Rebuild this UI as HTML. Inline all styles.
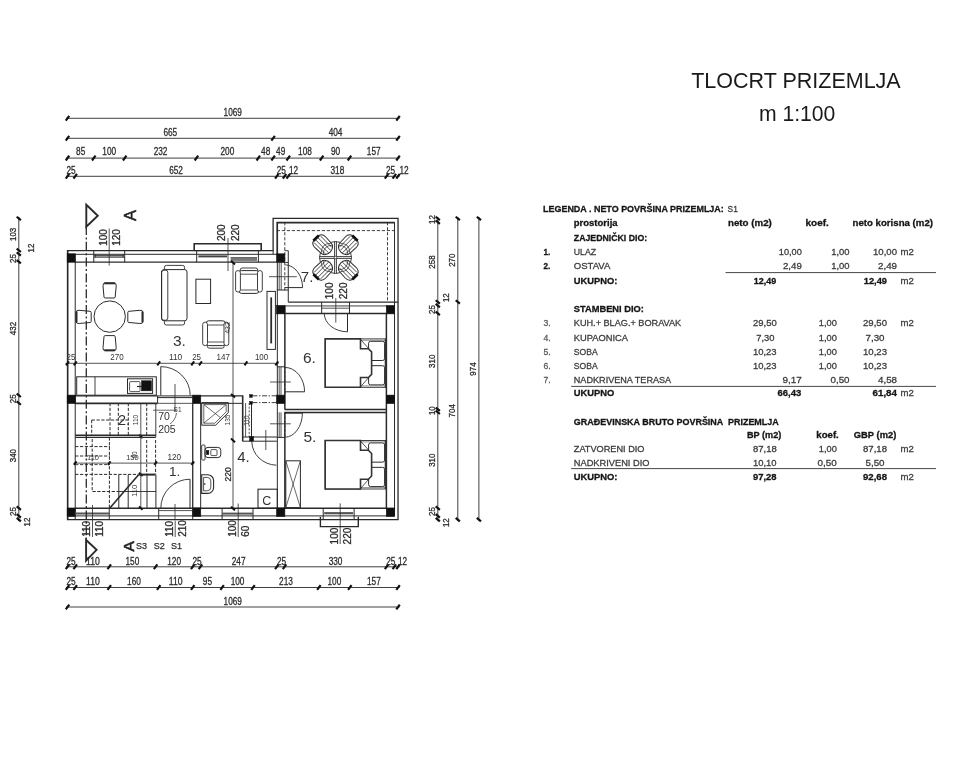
<!DOCTYPE html>
<html lang="hr">
<head>
<meta charset="utf-8">
<title>Tlocrt prizemlja</title>
<style>
html,body{margin:0;padding:0;background:#fff;}
body{width:960px;height:767px;overflow:hidden;font-family:"Liberation Sans",sans-serif;}
svg{display:block;font-family:"Liberation Sans",sans-serif;}
svg text{white-space:pre;}
#plan{filter:blur(0.5px);}
#legend{filter:blur(0.45px);}
#title{filter:blur(0.4px);}
</style>
</head>
<body>
<svg width="960" height="767" viewBox="0 0 960 767">
<rect x="0" y="0" width="960" height="767" fill="#ffffff"/>
<g id="title">
<text x="691.20" y="87.60" font-size="21.5" text-anchor="start" fill="#1a1a1a" font-weight="normal" textLength="209.50" lengthAdjust="spacingAndGlyphs">TLOCRT PRIZEMLJA</text>
<text x="758.90" y="121.30" font-size="21.5" text-anchor="start" fill="#1a1a1a" font-weight="normal" textLength="76.50" lengthAdjust="spacingAndGlyphs">m 1:100</text>
</g>
<g id="plan" stroke-linecap="butt">
<line x1="66.00" y1="118.30" x2="399.53" y2="118.30" stroke="#2a2a2a" stroke-width="0.9"/>
<line x1="65.77" y1="120.70" x2="69.23" y2="115.90" stroke="#111" stroke-width="2.2"/>
<line x1="396.30" y1="120.70" x2="399.76" y2="115.90" stroke="#111" stroke-width="2.2"/>
<text x="232.76" y="115.50" font-size="10.7" text-anchor="middle" fill="#2b2b2b" font-weight="normal" textLength="18.40" lengthAdjust="spacingAndGlyphs" stroke="#2b2b2b" stroke-width="0.3">1069</text>
<line x1="66.00" y1="138.30" x2="399.53" y2="138.30" stroke="#2a2a2a" stroke-width="0.9"/>
<line x1="65.77" y1="140.70" x2="69.23" y2="135.90" stroke="#111" stroke-width="2.2"/>
<line x1="271.39" y1="140.70" x2="274.85" y2="135.90" stroke="#111" stroke-width="2.2"/>
<line x1="396.30" y1="140.70" x2="399.76" y2="135.90" stroke="#111" stroke-width="2.2"/>
<text x="170.31" y="135.50" font-size="10.7" text-anchor="middle" fill="#2b2b2b" font-weight="normal" textLength="13.80" lengthAdjust="spacingAndGlyphs" stroke="#2b2b2b" stroke-width="0.3">665</text>
<text x="335.57" y="135.50" font-size="10.7" text-anchor="middle" fill="#2b2b2b" font-weight="normal" textLength="13.80" lengthAdjust="spacingAndGlyphs" stroke="#2b2b2b" stroke-width="0.3">404</text>
<line x1="66.00" y1="158.10" x2="399.53" y2="158.10" stroke="#2a2a2a" stroke-width="0.9"/>
<line x1="65.77" y1="160.50" x2="69.23" y2="155.70" stroke="#111" stroke-width="2.2"/>
<line x1="92.05" y1="160.50" x2="95.51" y2="155.70" stroke="#111" stroke-width="2.2"/>
<line x1="122.97" y1="160.50" x2="126.43" y2="155.70" stroke="#111" stroke-width="2.2"/>
<line x1="194.71" y1="160.50" x2="198.17" y2="155.70" stroke="#111" stroke-width="2.2"/>
<line x1="256.55" y1="160.50" x2="260.01" y2="155.70" stroke="#111" stroke-width="2.2"/>
<line x1="271.39" y1="160.50" x2="274.85" y2="155.70" stroke="#111" stroke-width="2.2"/>
<line x1="286.54" y1="160.50" x2="290.00" y2="155.70" stroke="#111" stroke-width="2.2"/>
<line x1="319.93" y1="160.50" x2="323.39" y2="155.70" stroke="#111" stroke-width="2.2"/>
<line x1="347.76" y1="160.50" x2="351.22" y2="155.70" stroke="#111" stroke-width="2.2"/>
<line x1="396.30" y1="160.50" x2="399.76" y2="155.70" stroke="#111" stroke-width="2.2"/>
<text x="80.64" y="155.30" font-size="10.7" text-anchor="middle" fill="#2b2b2b" font-weight="normal" textLength="9.20" lengthAdjust="spacingAndGlyphs" stroke="#2b2b2b" stroke-width="0.3">85</text>
<text x="109.24" y="155.30" font-size="10.7" text-anchor="middle" fill="#2b2b2b" font-weight="normal" textLength="13.80" lengthAdjust="spacingAndGlyphs" stroke="#2b2b2b" stroke-width="0.3">100</text>
<text x="160.57" y="155.30" font-size="10.7" text-anchor="middle" fill="#2b2b2b" font-weight="normal" textLength="13.80" lengthAdjust="spacingAndGlyphs" stroke="#2b2b2b" stroke-width="0.3">232</text>
<text x="227.36" y="155.30" font-size="10.7" text-anchor="middle" fill="#2b2b2b" font-weight="normal" textLength="13.80" lengthAdjust="spacingAndGlyphs" stroke="#2b2b2b" stroke-width="0.3">200</text>
<text x="265.70" y="155.30" font-size="10.7" text-anchor="middle" fill="#2b2b2b" font-weight="normal" textLength="9.20" lengthAdjust="spacingAndGlyphs" stroke="#2b2b2b" stroke-width="0.3">48</text>
<text x="280.69" y="155.30" font-size="10.7" text-anchor="middle" fill="#2b2b2b" font-weight="normal" textLength="9.20" lengthAdjust="spacingAndGlyphs" stroke="#2b2b2b" stroke-width="0.3">49</text>
<text x="304.97" y="155.30" font-size="10.7" text-anchor="middle" fill="#2b2b2b" font-weight="normal" textLength="13.80" lengthAdjust="spacingAndGlyphs" stroke="#2b2b2b" stroke-width="0.3">108</text>
<text x="335.58" y="155.30" font-size="10.7" text-anchor="middle" fill="#2b2b2b" font-weight="normal" textLength="9.20" lengthAdjust="spacingAndGlyphs" stroke="#2b2b2b" stroke-width="0.3">90</text>
<text x="373.76" y="155.30" font-size="10.7" text-anchor="middle" fill="#2b2b2b" font-weight="normal" textLength="13.80" lengthAdjust="spacingAndGlyphs" stroke="#2b2b2b" stroke-width="0.3">157</text>
<line x1="66.00" y1="176.30" x2="399.53" y2="176.30" stroke="#2a2a2a" stroke-width="0.9"/>
<line x1="65.77" y1="178.70" x2="69.23" y2="173.90" stroke="#111" stroke-width="2.2"/>
<line x1="73.50" y1="178.70" x2="76.96" y2="173.90" stroke="#111" stroke-width="2.2"/>
<line x1="275.10" y1="178.70" x2="278.56" y2="173.90" stroke="#111" stroke-width="2.2"/>
<line x1="282.83" y1="178.70" x2="286.29" y2="173.90" stroke="#111" stroke-width="2.2"/>
<line x1="286.54" y1="178.70" x2="290.00" y2="173.90" stroke="#111" stroke-width="2.2"/>
<line x1="384.86" y1="178.70" x2="388.32" y2="173.90" stroke="#111" stroke-width="2.2"/>
<line x1="392.59" y1="178.70" x2="396.05" y2="173.90" stroke="#111" stroke-width="2.2"/>
<line x1="396.30" y1="178.70" x2="399.76" y2="173.90" stroke="#111" stroke-width="2.2"/>
<text x="71.00" y="173.50" font-size="10.7" text-anchor="middle" fill="#2b2b2b" font-weight="normal" textLength="9.20" lengthAdjust="spacingAndGlyphs" stroke="#2b2b2b" stroke-width="0.3">25</text>
<text x="176.03" y="173.50" font-size="10.7" text-anchor="middle" fill="#2b2b2b" font-weight="normal" textLength="13.80" lengthAdjust="spacingAndGlyphs" stroke="#2b2b2b" stroke-width="0.3">652</text>
<text x="281.30" y="173.50" font-size="10.7" text-anchor="middle" fill="#2b2b2b" font-weight="normal" textLength="9.20" lengthAdjust="spacingAndGlyphs" stroke="#2b2b2b" stroke-width="0.3">25</text>
<text x="293.50" y="173.50" font-size="10.7" text-anchor="middle" fill="#2b2b2b" font-weight="normal" textLength="9.20" lengthAdjust="spacingAndGlyphs" stroke="#2b2b2b" stroke-width="0.3">12</text>
<text x="337.43" y="173.50" font-size="10.7" text-anchor="middle" fill="#2b2b2b" font-weight="normal" textLength="13.80" lengthAdjust="spacingAndGlyphs" stroke="#2b2b2b" stroke-width="0.3">318</text>
<text x="390.50" y="173.50" font-size="10.7" text-anchor="middle" fill="#2b2b2b" font-weight="normal" textLength="9.20" lengthAdjust="spacingAndGlyphs" stroke="#2b2b2b" stroke-width="0.3">25</text>
<text x="404.00" y="173.50" font-size="10.7" text-anchor="middle" fill="#2b2b2b" font-weight="normal" textLength="9.20" lengthAdjust="spacingAndGlyphs" stroke="#2b2b2b" stroke-width="0.3">12</text>
<line x1="66.00" y1="566.80" x2="399.53" y2="566.80" stroke="#2a2a2a" stroke-width="0.9"/>
<line x1="65.77" y1="569.20" x2="69.23" y2="564.40" stroke="#111" stroke-width="2.2"/>
<line x1="73.50" y1="569.20" x2="76.96" y2="564.40" stroke="#111" stroke-width="2.2"/>
<line x1="107.51" y1="569.20" x2="110.97" y2="564.40" stroke="#111" stroke-width="2.2"/>
<line x1="153.89" y1="569.20" x2="157.35" y2="564.40" stroke="#111" stroke-width="2.2"/>
<line x1="191.00" y1="569.20" x2="194.46" y2="564.40" stroke="#111" stroke-width="2.2"/>
<line x1="198.73" y1="569.20" x2="202.19" y2="564.40" stroke="#111" stroke-width="2.2"/>
<line x1="275.10" y1="569.20" x2="278.56" y2="564.40" stroke="#111" stroke-width="2.2"/>
<line x1="282.83" y1="569.20" x2="286.29" y2="564.40" stroke="#111" stroke-width="2.2"/>
<line x1="384.86" y1="569.20" x2="388.32" y2="564.40" stroke="#111" stroke-width="2.2"/>
<line x1="392.59" y1="569.20" x2="396.05" y2="564.40" stroke="#111" stroke-width="2.2"/>
<line x1="396.30" y1="569.20" x2="399.76" y2="564.40" stroke="#111" stroke-width="2.2"/>
<text x="71.00" y="564.60" font-size="10.7" text-anchor="middle" fill="#2b2b2b" font-weight="normal" textLength="9.20" lengthAdjust="spacingAndGlyphs" stroke="#2b2b2b" stroke-width="0.3">25</text>
<text x="93.00" y="564.60" font-size="10.7" text-anchor="middle" fill="#2b2b2b" font-weight="normal" textLength="13.80" lengthAdjust="spacingAndGlyphs" stroke="#2b2b2b" stroke-width="0.3">110</text>
<text x="132.43" y="564.60" font-size="10.7" text-anchor="middle" fill="#2b2b2b" font-weight="normal" textLength="13.80" lengthAdjust="spacingAndGlyphs" stroke="#2b2b2b" stroke-width="0.3">150</text>
<text x="174.18" y="564.60" font-size="10.7" text-anchor="middle" fill="#2b2b2b" font-weight="normal" textLength="13.80" lengthAdjust="spacingAndGlyphs" stroke="#2b2b2b" stroke-width="0.3">120</text>
<text x="197.00" y="564.60" font-size="10.7" text-anchor="middle" fill="#2b2b2b" font-weight="normal" textLength="9.20" lengthAdjust="spacingAndGlyphs" stroke="#2b2b2b" stroke-width="0.3">25</text>
<text x="238.64" y="564.60" font-size="10.7" text-anchor="middle" fill="#2b2b2b" font-weight="normal" textLength="13.80" lengthAdjust="spacingAndGlyphs" stroke="#2b2b2b" stroke-width="0.3">247</text>
<text x="281.50" y="564.60" font-size="10.7" text-anchor="middle" fill="#2b2b2b" font-weight="normal" textLength="9.20" lengthAdjust="spacingAndGlyphs" stroke="#2b2b2b" stroke-width="0.3">25</text>
<text x="335.57" y="564.60" font-size="10.7" text-anchor="middle" fill="#2b2b2b" font-weight="normal" textLength="13.80" lengthAdjust="spacingAndGlyphs" stroke="#2b2b2b" stroke-width="0.3">330</text>
<text x="390.80" y="564.60" font-size="10.7" text-anchor="middle" fill="#2b2b2b" font-weight="normal" textLength="9.20" lengthAdjust="spacingAndGlyphs" stroke="#2b2b2b" stroke-width="0.3">25</text>
<text x="402.50" y="564.60" font-size="10.7" text-anchor="middle" fill="#2b2b2b" font-weight="normal" textLength="9.20" lengthAdjust="spacingAndGlyphs" stroke="#2b2b2b" stroke-width="0.3">12</text>
<line x1="66.00" y1="587.50" x2="399.53" y2="587.50" stroke="#2a2a2a" stroke-width="0.9"/>
<line x1="65.77" y1="589.90" x2="69.23" y2="585.10" stroke="#111" stroke-width="2.2"/>
<line x1="73.50" y1="589.90" x2="76.96" y2="585.10" stroke="#111" stroke-width="2.2"/>
<line x1="107.51" y1="589.90" x2="110.97" y2="585.10" stroke="#111" stroke-width="2.2"/>
<line x1="156.98" y1="589.90" x2="160.44" y2="585.10" stroke="#111" stroke-width="2.2"/>
<line x1="191.00" y1="589.90" x2="194.46" y2="585.10" stroke="#111" stroke-width="2.2"/>
<line x1="220.37" y1="589.90" x2="223.83" y2="585.10" stroke="#111" stroke-width="2.2"/>
<line x1="251.29" y1="589.90" x2="254.75" y2="585.10" stroke="#111" stroke-width="2.2"/>
<line x1="317.15" y1="589.90" x2="320.61" y2="585.10" stroke="#111" stroke-width="2.2"/>
<line x1="348.07" y1="589.90" x2="351.53" y2="585.10" stroke="#111" stroke-width="2.2"/>
<line x1="396.30" y1="589.90" x2="399.76" y2="585.10" stroke="#111" stroke-width="2.2"/>
<text x="71.00" y="585.30" font-size="10.7" text-anchor="middle" fill="#2b2b2b" font-weight="normal" textLength="9.20" lengthAdjust="spacingAndGlyphs" stroke="#2b2b2b" stroke-width="0.3">25</text>
<text x="93.00" y="585.30" font-size="10.7" text-anchor="middle" fill="#2b2b2b" font-weight="normal" textLength="13.80" lengthAdjust="spacingAndGlyphs" stroke="#2b2b2b" stroke-width="0.3">110</text>
<text x="133.97" y="585.30" font-size="10.7" text-anchor="middle" fill="#2b2b2b" font-weight="normal" textLength="13.80" lengthAdjust="spacingAndGlyphs" stroke="#2b2b2b" stroke-width="0.3">160</text>
<text x="175.72" y="585.30" font-size="10.7" text-anchor="middle" fill="#2b2b2b" font-weight="normal" textLength="13.80" lengthAdjust="spacingAndGlyphs" stroke="#2b2b2b" stroke-width="0.3">110</text>
<text x="207.41" y="585.30" font-size="10.7" text-anchor="middle" fill="#2b2b2b" font-weight="normal" textLength="9.20" lengthAdjust="spacingAndGlyphs" stroke="#2b2b2b" stroke-width="0.3">95</text>
<text x="237.56" y="585.30" font-size="10.7" text-anchor="middle" fill="#2b2b2b" font-weight="normal" textLength="13.80" lengthAdjust="spacingAndGlyphs" stroke="#2b2b2b" stroke-width="0.3">100</text>
<text x="285.95" y="585.30" font-size="10.7" text-anchor="middle" fill="#2b2b2b" font-weight="normal" textLength="13.80" lengthAdjust="spacingAndGlyphs" stroke="#2b2b2b" stroke-width="0.3">213</text>
<text x="334.34" y="585.30" font-size="10.7" text-anchor="middle" fill="#2b2b2b" font-weight="normal" textLength="13.80" lengthAdjust="spacingAndGlyphs" stroke="#2b2b2b" stroke-width="0.3">100</text>
<text x="373.91" y="585.30" font-size="10.7" text-anchor="middle" fill="#2b2b2b" font-weight="normal" textLength="13.80" lengthAdjust="spacingAndGlyphs" stroke="#2b2b2b" stroke-width="0.3">157</text>
<line x1="66.00" y1="607.00" x2="399.53" y2="607.00" stroke="#2a2a2a" stroke-width="0.9"/>
<line x1="65.77" y1="609.40" x2="69.23" y2="604.60" stroke="#111" stroke-width="2.2"/>
<line x1="396.30" y1="609.40" x2="399.76" y2="604.60" stroke="#111" stroke-width="2.2"/>
<text x="232.76" y="604.80" font-size="10.7" text-anchor="middle" fill="#2b2b2b" font-weight="normal" textLength="18.40" lengthAdjust="spacingAndGlyphs" stroke="#2b2b2b" stroke-width="0.3">1069</text>
<line x1="18.80" y1="216.95" x2="18.80" y2="521.11" stroke="#2a2a2a" stroke-width="0.9"/>
<line x1="16.70" y1="216.75" x2="20.90" y2="220.15" stroke="#111" stroke-width="2.2"/>
<line x1="16.70" y1="248.60" x2="20.90" y2="252.00" stroke="#111" stroke-width="2.2"/>
<line x1="16.70" y1="252.31" x2="20.90" y2="255.71" stroke="#111" stroke-width="2.2"/>
<line x1="16.70" y1="260.04" x2="20.90" y2="263.44" stroke="#111" stroke-width="2.2"/>
<line x1="16.70" y1="393.61" x2="20.90" y2="397.01" stroke="#111" stroke-width="2.2"/>
<line x1="16.70" y1="401.34" x2="20.90" y2="404.74" stroke="#111" stroke-width="2.2"/>
<line x1="16.70" y1="506.47" x2="20.90" y2="509.87" stroke="#111" stroke-width="2.2"/>
<line x1="16.70" y1="514.20" x2="20.90" y2="517.60" stroke="#111" stroke-width="2.2"/>
<line x1="16.70" y1="517.91" x2="20.90" y2="521.31" stroke="#111" stroke-width="2.2"/>
<text x="15.80" y="234.38" font-size="8.8" text-anchor="middle" fill="#2b2b2b" font-weight="normal" transform="rotate(-90 15.80 234.38)" textLength="13.20" lengthAdjust="spacingAndGlyphs" stroke="#2b2b2b" stroke-width="0.3">103</text>
<text x="34.30" y="248.00" font-size="8.8" text-anchor="middle" fill="#2b2b2b" font-weight="normal" transform="rotate(-90 34.30 248.00)" textLength="8.80" lengthAdjust="spacingAndGlyphs" stroke="#2b2b2b" stroke-width="0.3">12</text>
<text x="15.80" y="258.60" font-size="8.8" text-anchor="middle" fill="#2b2b2b" font-weight="normal" transform="rotate(-90 15.80 258.60)" textLength="8.80" lengthAdjust="spacingAndGlyphs" stroke="#2b2b2b" stroke-width="0.3">25</text>
<text x="15.80" y="328.52" font-size="8.8" text-anchor="middle" fill="#2b2b2b" font-weight="normal" transform="rotate(-90 15.80 328.52)" textLength="13.20" lengthAdjust="spacingAndGlyphs" stroke="#2b2b2b" stroke-width="0.3">432</text>
<text x="15.80" y="398.80" font-size="8.8" text-anchor="middle" fill="#2b2b2b" font-weight="normal" transform="rotate(-90 15.80 398.80)" textLength="8.80" lengthAdjust="spacingAndGlyphs" stroke="#2b2b2b" stroke-width="0.3">25</text>
<text x="15.80" y="455.61" font-size="8.8" text-anchor="middle" fill="#2b2b2b" font-weight="normal" transform="rotate(-90 15.80 455.61)" textLength="13.20" lengthAdjust="spacingAndGlyphs" stroke="#2b2b2b" stroke-width="0.3">340</text>
<text x="15.80" y="511.50" font-size="8.8" text-anchor="middle" fill="#2b2b2b" font-weight="normal" transform="rotate(-90 15.80 511.50)" textLength="8.80" lengthAdjust="spacingAndGlyphs" stroke="#2b2b2b" stroke-width="0.3">25</text>
<text x="30.30" y="522.00" font-size="8.8" text-anchor="middle" fill="#2b2b2b" font-weight="normal" transform="rotate(-90 30.30 522.00)" textLength="8.80" lengthAdjust="spacingAndGlyphs" stroke="#2b2b2b" stroke-width="0.3">12</text>
<line x1="437.80" y1="216.95" x2="437.80" y2="521.11" stroke="#2a2a2a" stroke-width="0.9"/>
<line x1="435.70" y1="216.75" x2="439.90" y2="220.15" stroke="#111" stroke-width="2.2"/>
<line x1="435.70" y1="220.46" x2="439.90" y2="223.86" stroke="#111" stroke-width="2.2"/>
<line x1="435.70" y1="300.23" x2="439.90" y2="303.63" stroke="#111" stroke-width="2.2"/>
<line x1="435.70" y1="303.94" x2="439.90" y2="307.34" stroke="#111" stroke-width="2.2"/>
<line x1="435.70" y1="311.67" x2="439.90" y2="315.07" stroke="#111" stroke-width="2.2"/>
<line x1="435.70" y1="407.53" x2="439.90" y2="410.93" stroke="#111" stroke-width="2.2"/>
<line x1="435.70" y1="410.62" x2="439.90" y2="414.02" stroke="#111" stroke-width="2.2"/>
<line x1="435.70" y1="506.47" x2="439.90" y2="509.87" stroke="#111" stroke-width="2.2"/>
<line x1="435.70" y1="514.20" x2="439.90" y2="517.60" stroke="#111" stroke-width="2.2"/>
<line x1="435.70" y1="517.91" x2="439.90" y2="521.31" stroke="#111" stroke-width="2.2"/>
<text x="434.80" y="219.50" font-size="8.8" text-anchor="middle" fill="#2b2b2b" font-weight="normal" transform="rotate(-90 434.80 219.50)" textLength="8.80" lengthAdjust="spacingAndGlyphs" stroke="#2b2b2b" stroke-width="0.3">12</text>
<text x="434.80" y="262.05" font-size="8.8" text-anchor="middle" fill="#2b2b2b" font-weight="normal" transform="rotate(-90 434.80 262.05)" textLength="13.20" lengthAdjust="spacingAndGlyphs" stroke="#2b2b2b" stroke-width="0.3">258</text>
<text x="449.50" y="297.70" font-size="8.8" text-anchor="middle" fill="#2b2b2b" font-weight="normal" transform="rotate(-90 449.50 297.70)" textLength="8.80" lengthAdjust="spacingAndGlyphs" stroke="#2b2b2b" stroke-width="0.3">12</text>
<text x="434.80" y="309.50" font-size="8.8" text-anchor="middle" fill="#2b2b2b" font-weight="normal" transform="rotate(-90 434.80 309.50)" textLength="8.80" lengthAdjust="spacingAndGlyphs" stroke="#2b2b2b" stroke-width="0.3">25</text>
<text x="434.80" y="361.30" font-size="8.8" text-anchor="middle" fill="#2b2b2b" font-weight="normal" transform="rotate(-90 434.80 361.30)" textLength="13.20" lengthAdjust="spacingAndGlyphs" stroke="#2b2b2b" stroke-width="0.3">310</text>
<text x="434.80" y="410.70" font-size="8.8" text-anchor="middle" fill="#2b2b2b" font-weight="normal" transform="rotate(-90 434.80 410.70)" textLength="8.80" lengthAdjust="spacingAndGlyphs" stroke="#2b2b2b" stroke-width="0.3">10</text>
<text x="434.80" y="460.25" font-size="8.8" text-anchor="middle" fill="#2b2b2b" font-weight="normal" transform="rotate(-90 434.80 460.25)" textLength="13.20" lengthAdjust="spacingAndGlyphs" stroke="#2b2b2b" stroke-width="0.3">310</text>
<text x="434.80" y="511.50" font-size="8.8" text-anchor="middle" fill="#2b2b2b" font-weight="normal" transform="rotate(-90 434.80 511.50)" textLength="8.80" lengthAdjust="spacingAndGlyphs" stroke="#2b2b2b" stroke-width="0.3">25</text>
<text x="449.30" y="522.70" font-size="8.8" text-anchor="middle" fill="#2b2b2b" font-weight="normal" transform="rotate(-90 449.30 522.70)" textLength="8.80" lengthAdjust="spacingAndGlyphs" stroke="#2b2b2b" stroke-width="0.3">12</text>
<line x1="457.80" y1="216.95" x2="457.80" y2="521.11" stroke="#2a2a2a" stroke-width="0.9"/>
<line x1="455.70" y1="216.75" x2="459.90" y2="220.15" stroke="#111" stroke-width="2.2"/>
<line x1="455.70" y1="300.23" x2="459.90" y2="303.63" stroke="#111" stroke-width="2.2"/>
<line x1="455.70" y1="517.91" x2="459.90" y2="521.31" stroke="#111" stroke-width="2.2"/>
<text x="454.80" y="260.19" font-size="8.8" text-anchor="middle" fill="#2b2b2b" font-weight="normal" transform="rotate(-90 454.80 260.19)" textLength="13.20" lengthAdjust="spacingAndGlyphs" stroke="#2b2b2b" stroke-width="0.3">270</text>
<text x="454.80" y="410.77" font-size="8.8" text-anchor="middle" fill="#2b2b2b" font-weight="normal" transform="rotate(-90 454.80 410.77)" textLength="13.20" lengthAdjust="spacingAndGlyphs" stroke="#2b2b2b" stroke-width="0.3">704</text>
<line x1="478.90" y1="216.95" x2="478.90" y2="521.11" stroke="#2a2a2a" stroke-width="0.9"/>
<line x1="476.80" y1="216.75" x2="481.00" y2="220.15" stroke="#111" stroke-width="2.2"/>
<line x1="476.80" y1="517.91" x2="481.00" y2="521.31" stroke="#111" stroke-width="2.2"/>
<text x="475.90" y="369.03" font-size="8.8" text-anchor="middle" fill="#2b2b2b" font-weight="normal" transform="rotate(-90 475.90 369.03)" textLength="13.20" lengthAdjust="spacingAndGlyphs" stroke="#2b2b2b" stroke-width="0.3">974</text>
<path d="M67.5,250.70000000000002 H273.12 V218.45 H398.03 V519.61 H67.5 Z" fill="none" stroke="#2a2a2a" stroke-width="1.3"/>
<line x1="75.23" y1="262.04" x2="75.23" y2="508.17" stroke="#2a2a2a" stroke-width="1.0"/>
<line x1="67.80" y1="250.70" x2="67.80" y2="519.61" stroke="#2a2a2a" stroke-width="1.2"/>
<line x1="67.50" y1="254.31" x2="276.83" y2="254.31" stroke="#2a2a2a" stroke-width="1.0"/>
<line x1="75.23" y1="262.14" x2="276.83" y2="262.14" stroke="#2a2a2a" stroke-width="1.3"/>
<line x1="75.23" y1="508.27" x2="386.59" y2="508.27" stroke="#2a2a2a" stroke-width="1.5"/>
<line x1="158.71" y1="510.60" x2="192.73" y2="510.60" stroke="#2a2a2a" stroke-width="0.8"/>
<line x1="67.50" y1="515.90" x2="394.32" y2="515.90" stroke="#2a2a2a" stroke-width="1.0"/>
<line x1="386.39" y1="313.37" x2="386.39" y2="508.17" stroke="#2a2a2a" stroke-width="1.5"/>
<line x1="394.52" y1="222.16" x2="394.52" y2="516.20" stroke="#2a2a2a" stroke-width="1.0"/>
<path d="M277.22999999999996,254.31 V222.66 H394.52" fill="none" stroke="#2a2a2a" stroke-width="1.7"/>
<line x1="273.12" y1="250.70" x2="273.12" y2="254.31" stroke="#2a2a2a" stroke-width="1"/>
<line x1="288.27" y1="302.13" x2="398.03" y2="302.13" stroke="#2a2a2a" stroke-width="1.2"/>
<line x1="288.27" y1="250.70" x2="288.27" y2="302.13" stroke="#2a2a2a" stroke-width="1.0"/>
<line x1="284.56" y1="250.70" x2="288.27" y2="250.70" stroke="#2a2a2a" stroke-width="0.9"/>
<line x1="276.83" y1="230.60" x2="394.32" y2="230.60" stroke="#2a2a2a" stroke-width="0.9" stroke-dasharray="3.2 1.8"/>
<line x1="284.80" y1="222.16" x2="284.80" y2="292.00" stroke="#2a2a2a" stroke-width="0.9" stroke-dasharray="3.2 1.8"/>
<line x1="387.50" y1="222.16" x2="387.50" y2="301.93" stroke="#2a2a2a" stroke-width="0.9" stroke-dasharray="3.2 1.8"/>
<line x1="284.56" y1="305.94" x2="386.59" y2="305.94" stroke="#2a2a2a" stroke-width="0.9"/>
<line x1="284.56" y1="313.57" x2="386.59" y2="313.57" stroke="#2a2a2a" stroke-width="1.5"/>
<line x1="277.33" y1="262.04" x2="277.33" y2="508.17" stroke="#2a2a2a" stroke-width="1.0"/>
<line x1="284.86" y1="305.64" x2="284.86" y2="409.23" stroke="#2a2a2a" stroke-width="1.5"/>
<line x1="284.86" y1="412.32" x2="284.86" y2="508.17" stroke="#2a2a2a" stroke-width="1.5"/>
<line x1="284.56" y1="409.43" x2="386.59" y2="409.43" stroke="#2a2a2a" stroke-width="1.5"/>
<line x1="284.56" y1="412.52" x2="386.59" y2="412.52" stroke="#2a2a2a" stroke-width="1.3"/>
<line x1="75.23" y1="395.91" x2="157.60" y2="395.91" stroke="#2a2a2a" stroke-width="1.2"/>
<line x1="75.23" y1="403.34" x2="157.60" y2="403.34" stroke="#2a2a2a" stroke-width="1.6"/>
<line x1="157.60" y1="395.91" x2="157.60" y2="403.34" stroke="#2a2a2a" stroke-width="1.0"/>
<line x1="200.46" y1="395.91" x2="242.50" y2="395.91" stroke="#2a2a2a" stroke-width="1.2"/>
<line x1="200.46" y1="403.34" x2="242.50" y2="403.34" stroke="#2a2a2a" stroke-width="1.0"/>
<line x1="192.73" y1="403.04" x2="192.73" y2="508.17" stroke="#2a2a2a" stroke-width="1.3"/>
<line x1="200.66" y1="403.04" x2="200.66" y2="508.17" stroke="#2a2a2a" stroke-width="1.0"/>
<rect x="67.20" y="253.81" width="8.33" height="8.43" rx="0" fill="#111" stroke="#111" stroke-width="0.6"/>
<rect x="276.53" y="253.81" width="8.33" height="8.43" rx="0" fill="#111" stroke="#111" stroke-width="0.6"/>
<rect x="276.53" y="305.44" width="8.33" height="8.43" rx="0" fill="#111" stroke="#111" stroke-width="0.6"/>
<rect x="386.29" y="305.44" width="8.33" height="8.43" rx="0" fill="#111" stroke="#111" stroke-width="0.6"/>
<rect x="67.20" y="395.11" width="8.33" height="8.43" rx="0" fill="#111" stroke="#111" stroke-width="0.6"/>
<rect x="192.43" y="395.11" width="8.33" height="8.43" rx="0" fill="#111" stroke="#111" stroke-width="0.6"/>
<rect x="276.53" y="395.11" width="8.33" height="8.43" rx="0" fill="#111" stroke="#111" stroke-width="0.6"/>
<rect x="386.29" y="395.11" width="8.33" height="8.43" rx="0" fill="#111" stroke="#111" stroke-width="0.6"/>
<rect x="67.20" y="507.97" width="8.33" height="8.43" rx="0" fill="#111" stroke="#111" stroke-width="0.6"/>
<rect x="192.43" y="507.97" width="8.33" height="8.43" rx="0" fill="#111" stroke="#111" stroke-width="0.6"/>
<rect x="276.53" y="507.97" width="8.33" height="8.43" rx="0" fill="#111" stroke="#111" stroke-width="0.6"/>
<rect x="386.29" y="507.97" width="8.33" height="8.43" rx="0" fill="#111" stroke="#111" stroke-width="0.6"/>
<line x1="93.78" y1="250.70" x2="93.78" y2="262.14" stroke="#2a2a2a" stroke-width="1.0"/>
<line x1="124.70" y1="250.70" x2="124.70" y2="262.14" stroke="#2a2a2a" stroke-width="1.0"/>
<line x1="93.78" y1="255.60" x2="124.70" y2="255.60" stroke="#555" stroke-width="2.0"/>
<line x1="95.38" y1="254.31" x2="95.38" y2="257.40" stroke="#2a2a2a" stroke-width="0.8"/>
<line x1="123.10" y1="254.31" x2="123.10" y2="257.40" stroke="#2a2a2a" stroke-width="0.8"/>
<line x1="93.78" y1="257.40" x2="124.70" y2="257.40" stroke="#2a2a2a" stroke-width="0.7"/>
<path d="M194.2,250.70000000000002 V243.8 H261.2 V250.70000000000002" fill="none" stroke="#2a2a2a" stroke-width="1.6"/>
<line x1="196.70" y1="250.70" x2="196.70" y2="262.14" stroke="#2a2a2a" stroke-width="1.0"/>
<line x1="258.40" y1="250.70" x2="258.40" y2="262.14" stroke="#2a2a2a" stroke-width="1.0"/>
<line x1="198.40" y1="256.40" x2="227.00" y2="256.40" stroke="#444" stroke-width="2.0"/>
<line x1="230.60" y1="259.20" x2="257.00" y2="259.20" stroke="#777" stroke-width="3.4"/>
<line x1="230.60" y1="257.50" x2="257.00" y2="257.50" stroke="#444" stroke-width="0.7"/>
<line x1="194.20" y1="250.70" x2="261.20" y2="250.70" stroke="#2a2a2a" stroke-width="1.0"/>
<line x1="75.23" y1="508.17" x2="75.23" y2="519.61" stroke="#2a2a2a" stroke-width="1.0"/>
<line x1="109.24" y1="508.17" x2="109.24" y2="519.61" stroke="#2a2a2a" stroke-width="1.0"/>
<line x1="75.23" y1="513.40" x2="109.24" y2="513.40" stroke="#555" stroke-width="2.0"/>
<line x1="158.71" y1="508.17" x2="158.71" y2="519.61" stroke="#2a2a2a" stroke-width="1.0"/>
<line x1="192.73" y1="508.17" x2="192.73" y2="519.61" stroke="#2a2a2a" stroke-width="1.0"/>
<line x1="222.10" y1="508.17" x2="222.10" y2="519.61" stroke="#2a2a2a" stroke-width="1.0"/>
<line x1="253.02" y1="508.17" x2="253.02" y2="519.61" stroke="#2a2a2a" stroke-width="1.0"/>
<line x1="222.10" y1="513.60" x2="253.02" y2="513.60" stroke="#555" stroke-width="2.0"/>
<line x1="323.21" y1="508.17" x2="323.21" y2="519.61" stroke="#2a2a2a" stroke-width="1.0"/>
<line x1="354.13" y1="508.17" x2="354.13" y2="519.61" stroke="#2a2a2a" stroke-width="1.0"/>
<line x1="324.21" y1="513.20" x2="353.13" y2="513.20" stroke="#555" stroke-width="2.2"/>
<path d="M320.4,516.8100000000001 V526.6 H358.3 V516.8100000000001" fill="none" stroke="#2a2a2a" stroke-width="1.4"/>
<line x1="276.83" y1="290.00" x2="288.56" y2="290.00" stroke="#2a2a2a" stroke-width="1.0"/>
<line x1="276.83" y1="262.04" x2="288.56" y2="262.54" stroke="#2a2a2a" stroke-width="0.9"/>
<line x1="284.86" y1="287.60" x2="302.60" y2="287.60" stroke="#2a2a2a" stroke-width="1.0"/>
<path d="M302.6,287.6 A18,23 0 0 0 285.36,264.8" fill="none" stroke="#2a2a2a" stroke-width="0.9"/>
<line x1="269.00" y1="276.70" x2="296.80" y2="276.70" stroke="#2a2a2a" stroke-width="0.8"/>
<line x1="279.20" y1="262.04" x2="279.20" y2="290.00" stroke="#2a2a2a" stroke-width="0.8"/>
<line x1="281.20" y1="262.04" x2="281.20" y2="290.00" stroke="#2a2a2a" stroke-width="0.8"/>
<line x1="321.66" y1="301.93" x2="321.66" y2="313.37" stroke="#2a2a2a" stroke-width="1.0"/>
<line x1="349.49" y1="301.93" x2="349.49" y2="313.37" stroke="#2a2a2a" stroke-width="1.0"/>
<line x1="321.66" y1="308.20" x2="349.49" y2="308.20" stroke="#2a2a2a" stroke-width="0.8"/>
<line x1="347.50" y1="313.37" x2="347.50" y2="331.80" stroke="#2a2a2a" stroke-width="1.0"/>
<path d="M347.5,331.8 A23.3,18.6 0 0 1 324.2,313.37" fill="none" stroke="#2a2a2a" stroke-width="0.9"/>
<line x1="335.80" y1="298.00" x2="335.80" y2="322.60" stroke="#2a2a2a" stroke-width="0.8"/>
<line x1="276.83" y1="366.80" x2="285.06" y2="366.80" stroke="#2a2a2a" stroke-width="1.0"/>
<line x1="284.86" y1="391.80" x2="304.60" y2="391.80" stroke="#2a2a2a" stroke-width="1.0"/>
<path d="M304.6,391.8 A19.8,24.4 0 0 0 285.16,367.4" fill="none" stroke="#2a2a2a" stroke-width="0.9"/>
<line x1="270.00" y1="382.00" x2="290.80" y2="382.00" stroke="#2a2a2a" stroke-width="0.8"/>
<line x1="279.20" y1="366.80" x2="279.20" y2="395.31" stroke="#2a2a2a" stroke-width="0.8"/>
<line x1="281.00" y1="366.80" x2="281.00" y2="395.31" stroke="#2a2a2a" stroke-width="0.8"/>
<line x1="284.90" y1="366.80" x2="284.90" y2="395.31" stroke="#2a2a2a" stroke-width="0.8" stroke-dasharray="2.6 1.6"/>
<line x1="276.83" y1="437.40" x2="285.06" y2="437.40" stroke="#2a2a2a" stroke-width="1.0"/>
<path d="M285.16,437.2 A17.5,24.4 0 0 0 302.4,413" fill="none" stroke="#2a2a2a" stroke-width="0.9"/>
<line x1="284.86" y1="413.10" x2="302.40" y2="413.10" stroke="#2a2a2a" stroke-width="1.0"/>
<line x1="270.00" y1="423.80" x2="290.80" y2="423.80" stroke="#2a2a2a" stroke-width="0.8"/>
<line x1="279.20" y1="412.32" x2="279.20" y2="437.40" stroke="#2a2a2a" stroke-width="0.8"/>
<line x1="281.00" y1="412.32" x2="281.00" y2="437.40" stroke="#2a2a2a" stroke-width="0.8"/>
<line x1="284.90" y1="412.32" x2="284.90" y2="437.40" stroke="#2a2a2a" stroke-width="0.8" stroke-dasharray="2.6 1.6"/>
<line x1="160.80" y1="395.31" x2="160.80" y2="366.60" stroke="#2a2a2a" stroke-width="1.0"/>
<path d="M160.8,366.6 A29.4,28.6 0 0 1 190.2,395.31" fill="none" stroke="#2a2a2a" stroke-width="0.9"/>
<line x1="157.60" y1="395.91" x2="192.73" y2="395.91" stroke="#2a2a2a" stroke-width="1.0"/>
<line x1="157.60" y1="397.60" x2="192.73" y2="397.60" stroke="#2a2a2a" stroke-width="1.0"/>
<line x1="175.00" y1="384.00" x2="175.00" y2="411.80" stroke="#2a2a2a" stroke-width="0.8"/>
<line x1="157.60" y1="403.34" x2="192.73" y2="403.34" stroke="#2a2a2a" stroke-width="0.8"/>
<line x1="190.00" y1="508.17" x2="190.00" y2="479.20" stroke="#2a2a2a" stroke-width="1.0"/>
<path d="M190.0,479.2 A29.2,29.0 0 0 0 160.8,508.17" fill="none" stroke="#2a2a2a" stroke-width="0.9"/>
<line x1="175.00" y1="504.00" x2="175.00" y2="520.40" stroke="#2a2a2a" stroke-width="0.8"/>
<path d="M251.8,441.6 A25.4,24 0 0 0 276.4,465.2" fill="none" stroke="#2a2a2a" stroke-width="0.9"/>
<line x1="265.80" y1="430.00" x2="265.80" y2="450.00" stroke="#2a2a2a" stroke-width="0.8"/>
<line x1="242.50" y1="437.00" x2="276.83" y2="437.00" stroke="#2a2a2a" stroke-width="1.0"/>
<line x1="251.50" y1="441.20" x2="276.83" y2="441.20" stroke="#2a2a2a" stroke-width="1.0"/>
<line x1="242.70" y1="395.31" x2="242.70" y2="441.20" stroke="#2a2a2a" stroke-width="1.6"/>
<line x1="245.60" y1="403.04" x2="245.60" y2="437.00" stroke="#2a2a2a" stroke-width="0.8"/>
<line x1="249.20" y1="403.04" x2="249.20" y2="437.00" stroke="#2a2a2a" stroke-width="0.8" stroke-dasharray="2.2 1.4"/>
<line x1="251.50" y1="403.04" x2="251.50" y2="441.20" stroke="#2a2a2a" stroke-width="1.0"/>
<line x1="242.50" y1="441.20" x2="252.00" y2="441.20" stroke="#2a2a2a" stroke-width="1.0"/>
<rect x="249.60" y="394.60" width="2.80" height="2.80" rx="0" fill="#111" stroke="#111" stroke-width="0.5"/>
<rect x="249.60" y="401.40" width="2.80" height="2.80" rx="0" fill="#111" stroke="#111" stroke-width="0.5"/>
<rect x="249.60" y="436.60" width="4.00" height="4.40" rx="0" fill="#111" stroke="#111" stroke-width="0.5"/>
<line x1="252.40" y1="395.80" x2="276.83" y2="395.80" stroke="#2a2a2a" stroke-width="0.9" stroke-dasharray="5 1.6 1.4 1.6"/>
<line x1="252.40" y1="402.60" x2="276.83" y2="402.60" stroke="#2a2a2a" stroke-width="0.9" stroke-dasharray="5 1.6 1.4 1.6"/>
<text x="249.00" y="420.60" font-size="6.5" text-anchor="middle" fill="#333" font-weight="normal" transform="rotate(-90 249.00 420.60)">110</text>
<path d="M201.7,402.6 H228.3 V412.6 L215.6,425.2 H201.7 Z" fill="none" stroke="#2a2a2a" stroke-width="1.0"/>
<path d="M203.8,404.6 H226.2 V411.8 L214.8,423.2 H203.8 Z" fill="none" stroke="#2a2a2a" stroke-width="0.7"/>
<line x1="203.80" y1="404.60" x2="221.20" y2="418.20" stroke="#2a2a2a" stroke-width="0.7"/>
<line x1="226.20" y1="404.60" x2="203.80" y2="423.20" stroke="#2a2a2a" stroke-width="0.7"/>
<text x="229.60" y="420.00" font-size="6.5" text-anchor="middle" fill="#333" font-weight="normal" transform="rotate(-90 229.60 420.00)">135</text>
<rect x="201.70" y="445.00" width="3.30" height="15.00" rx="0.8" fill="none" stroke="#2a2a2a" stroke-width="0.9"/>
<rect x="205.00" y="447.40" width="15.80" height="10.20" rx="3" fill="none" stroke="#2a2a2a" stroke-width="1.0"/>
<rect x="210.80" y="449.60" width="6.20" height="6.00" rx="1" fill="none" stroke="#2a2a2a" stroke-width="0.8"/>
<rect x="206.30" y="450.40" width="2.50" height="4.20" rx="0" fill="#111" stroke="#111" stroke-width="0.5"/>
<path d="M201.7,474.8 H207.8 A5.8,5.8 0 0 1 213.6,480.6 V487.6 A5.8,5.8 0 0 1 207.8,493.4 H201.7 Z" fill="none" stroke="#2a2a2a" stroke-width="1.1"/>
<path d="M203.6,477.4 H207.2 A3.6,3.6 0 0 1 210.8,481 V487.2 A3.6,3.6 0 0 1 207.2,490.8 H203.6 Z" fill="none" stroke="#2a2a2a" stroke-width="0.8"/>
<circle cx="204.8" cy="484" r="0.8" fill="#111"/>
<rect x="258.00" y="489.20" width="19.33" height="18.97" rx="0" fill="none" stroke="#2a2a2a" stroke-width="1.1"/>
<text x="266.80" y="504.60" font-size="12.5" text-anchor="middle" fill="#333" font-weight="normal">C</text>
<rect x="285.80" y="460.80" width="14.60" height="46.80" rx="0" fill="none" stroke="#2a2a2a" stroke-width="1.0"/>
<line x1="285.80" y1="460.80" x2="300.40" y2="507.60" stroke="#2a2a2a" stroke-width="0.7"/>
<line x1="300.40" y1="460.80" x2="285.80" y2="507.60" stroke="#2a2a2a" stroke-width="0.7"/>
<line x1="65.50" y1="363.30" x2="278.50" y2="363.30" stroke="#2a2a2a" stroke-width="0.8"/>
<line x1="66.06" y1="365.30" x2="68.94" y2="361.30" stroke="#111" stroke-width="2.0"/>
<line x1="73.79" y1="365.30" x2="76.67" y2="361.30" stroke="#111" stroke-width="2.0"/>
<line x1="157.27" y1="365.30" x2="160.15" y2="361.30" stroke="#111" stroke-width="2.0"/>
<line x1="191.29" y1="365.30" x2="194.17" y2="361.30" stroke="#111" stroke-width="2.0"/>
<line x1="199.02" y1="365.30" x2="201.90" y2="361.30" stroke="#111" stroke-width="2.0"/>
<line x1="244.47" y1="365.30" x2="247.35" y2="361.30" stroke="#111" stroke-width="2.0"/>
<line x1="275.39" y1="365.30" x2="278.27" y2="361.30" stroke="#111" stroke-width="2.0"/>
<text x="71.00" y="360.00" font-size="8.4" text-anchor="middle" fill="#333" font-weight="normal" textLength="8.90" lengthAdjust="spacingAndGlyphs">25</text>
<text x="117.00" y="360.00" font-size="8.4" text-anchor="middle" fill="#333" font-weight="normal" textLength="13.35" lengthAdjust="spacingAndGlyphs">270</text>
<text x="175.60" y="360.00" font-size="8.4" text-anchor="middle" fill="#333" font-weight="normal" textLength="13.35" lengthAdjust="spacingAndGlyphs">110</text>
<text x="196.60" y="360.00" font-size="8.4" text-anchor="middle" fill="#333" font-weight="normal" textLength="8.90" lengthAdjust="spacingAndGlyphs">25</text>
<text x="223.20" y="360.00" font-size="8.4" text-anchor="middle" fill="#333" font-weight="normal" textLength="13.35" lengthAdjust="spacingAndGlyphs">147</text>
<text x="261.60" y="360.00" font-size="8.4" text-anchor="middle" fill="#333" font-weight="normal" textLength="13.35" lengthAdjust="spacingAndGlyphs">100</text>
<line x1="233.00" y1="262.04" x2="233.00" y2="509.17" stroke="#2a2a2a" stroke-width="0.8"/>
<line x1="231.00" y1="260.84" x2="235.00" y2="264.44" stroke="#111" stroke-width="2.0"/>
<line x1="231.00" y1="393.91" x2="235.00" y2="397.51" stroke="#111" stroke-width="2.0"/>
<line x1="231.00" y1="438.60" x2="235.00" y2="442.20" stroke="#111" stroke-width="2.0"/>
<line x1="231.00" y1="506.77" x2="235.00" y2="510.37" stroke="#111" stroke-width="2.0"/>
<text x="230.60" y="474.40" font-size="8.6" text-anchor="middle" fill="#2a2a2a" font-weight="normal" transform="rotate(-90 230.60 474.40)" stroke="#2a2a2a" stroke-width="0.25">220</text>
<line x1="73.50" y1="463.10" x2="194.30" y2="463.10" stroke="#2a2a2a" stroke-width="0.8"/>
<line x1="73.93" y1="464.90" x2="76.53" y2="461.30" stroke="#111" stroke-width="2.0"/>
<line x1="107.94" y1="464.90" x2="110.54" y2="461.30" stroke="#111" stroke-width="2.0"/>
<line x1="154.32" y1="464.90" x2="156.92" y2="461.30" stroke="#111" stroke-width="2.0"/>
<line x1="191.43" y1="464.90" x2="194.03" y2="461.30" stroke="#111" stroke-width="2.0"/>
<text x="93.00" y="459.70" font-size="7.5" text-anchor="middle" fill="#333" font-weight="normal">110</text>
<text x="132.40" y="459.70" font-size="7.5" text-anchor="middle" fill="#333" font-weight="normal">150</text>
<text x="174.30" y="459.70" font-size="8.2" text-anchor="middle" fill="#333" font-weight="normal">120</text>
<line x1="140.80" y1="403.04" x2="140.80" y2="508.17" stroke="#2a2a2a" stroke-width="0.8"/>
<line x1="139.00" y1="434.80" x2="142.60" y2="438.00" stroke="#111" stroke-width="2.0"/>
<line x1="139.00" y1="472.70" x2="142.60" y2="475.90" stroke="#111" stroke-width="2.0"/>
<line x1="139.00" y1="506.57" x2="142.60" y2="509.77" stroke="#111" stroke-width="2.0"/>
<text x="137.60" y="420.00" font-size="6.5" text-anchor="middle" fill="#333" font-weight="normal" transform="rotate(-90 137.60 420.00)">110</text>
<text x="137.40" y="490.80" font-size="7.6" text-anchor="middle" fill="#333" font-weight="normal" transform="rotate(-90 137.40 490.80)">110</text>
<text x="137.40" y="455.00" font-size="6.5" text-anchor="middle" fill="#333" font-weight="normal" transform="rotate(-90 137.40 455.00)">90</text>
<line x1="75.23" y1="435.20" x2="155.80" y2="435.20" stroke="#2a2a2a" stroke-width="1.5"/>
<line x1="75.23" y1="437.40" x2="155.80" y2="437.40" stroke="#2a2a2a" stroke-width="1.2"/>
<line x1="155.80" y1="403.04" x2="155.80" y2="437.00" stroke="#2a2a2a" stroke-width="0.9"/>
<line x1="155.90" y1="474.60" x2="155.90" y2="508.17" stroke="#2a2a2a" stroke-width="1.0"/>
<line x1="110.00" y1="403.04" x2="110.00" y2="435.00" stroke="#2a2a2a" stroke-width="1.0" stroke-dasharray="3.2 1.6"/>
<line x1="118.30" y1="403.04" x2="118.30" y2="435.00" stroke="#2a2a2a" stroke-width="1.0" stroke-dasharray="3.2 1.6"/>
<line x1="128.30" y1="403.04" x2="128.30" y2="435.00" stroke="#2a2a2a" stroke-width="1.0" stroke-dasharray="3.2 1.6"/>
<line x1="146.70" y1="403.04" x2="146.70" y2="435.00" stroke="#2a2a2a" stroke-width="1.0" stroke-dasharray="3.2 1.6"/>
<line x1="91.70" y1="420.00" x2="128.30" y2="420.00" stroke="#2a2a2a" stroke-width="1.0" stroke-dasharray="3.2 1.6"/>
<line x1="91.70" y1="420.00" x2="91.70" y2="435.00" stroke="#2a2a2a" stroke-width="1.0" stroke-dasharray="3.2 1.6"/>
<line x1="109.40" y1="437.40" x2="109.40" y2="508.17" stroke="#2a2a2a" stroke-width="1.0" stroke-dasharray="3.2 1.6"/>
<line x1="75.23" y1="446.60" x2="110.00" y2="446.60" stroke="#2a2a2a" stroke-width="1.0" stroke-dasharray="3.2 1.6"/>
<line x1="75.23" y1="456.00" x2="110.00" y2="456.00" stroke="#2a2a2a" stroke-width="1.0" stroke-dasharray="3.2 1.6"/>
<line x1="75.23" y1="464.60" x2="110.00" y2="464.60" stroke="#2a2a2a" stroke-width="0.9" stroke-dasharray="3.2 1.6"/>
<line x1="75.23" y1="474.40" x2="138.00" y2="474.40" stroke="#2a2a2a" stroke-width="1.0" stroke-dasharray="3.2 1.6"/>
<path d="M92.2,439 V491.5 H118" fill="none" stroke="#2a2a2a" stroke-width="1.0" stroke-dasharray="3.2 1.6"/>
<line x1="109.90" y1="508.00" x2="138.60" y2="474.80" stroke="#2a2a2a" stroke-width="1.6"/>
<line x1="138.40" y1="474.60" x2="155.60" y2="474.60" stroke="#2a2a2a" stroke-width="2.0"/>
<line x1="118.80" y1="474.60" x2="118.80" y2="508.17" stroke="#2a2a2a" stroke-width="1.0"/>
<line x1="128.20" y1="474.60" x2="128.20" y2="508.17" stroke="#2a2a2a" stroke-width="1.0"/>
<line x1="147.00" y1="474.60" x2="147.00" y2="508.17" stroke="#2a2a2a" stroke-width="1.0"/>
<line x1="118.00" y1="491.50" x2="156.00" y2="491.50" stroke="#2a2a2a" stroke-width="0.9"/>
<line x1="146.70" y1="440.00" x2="146.70" y2="474.00" stroke="#2a2a2a" stroke-width="1.0" stroke-dasharray="3.2 1.6"/>
<line x1="155.60" y1="440.00" x2="155.60" y2="474.00" stroke="#2a2a2a" stroke-width="1.0" stroke-dasharray="3.2 1.6"/>
<text x="158.20" y="420.40" font-size="10.5" text-anchor="start" fill="#333" font-weight="normal">70</text>
<text x="158.20" y="432.60" font-size="10.5" text-anchor="start" fill="#333" font-weight="normal">205</text>
<line x1="153.00" y1="410.20" x2="176.60" y2="410.20" stroke="#2a2a2a" stroke-width="0.7"/>
<text x="173.60" y="411.60" font-size="6.5" text-anchor="start" fill="#333" font-weight="normal">S1</text>
<path d="M176.5,413 Q175.5,420 170,424" fill="none" stroke="#2a2a2a" stroke-width="0.7"/>
<rect x="76.70" y="376.80" width="79.60" height="18.40" rx="0" fill="none" stroke="#2a2a2a" stroke-width="1.0"/>
<line x1="95.00" y1="376.80" x2="95.00" y2="395.20" stroke="#2a2a2a" stroke-width="0.9"/>
<rect x="127.50" y="378.80" width="25.10" height="14.60" rx="0" fill="none" stroke="#2a2a2a" stroke-width="1.0"/>
<rect x="129.60" y="381.60" width="10.40" height="10.00" rx="1" fill="none" stroke="#2a2a2a" stroke-width="0.8"/>
<rect x="141.60" y="380.80" width="9.80" height="10.00" rx="0" fill="#111" stroke="#111" stroke-width="0.6"/>
<line x1="137.00" y1="386.50" x2="142.00" y2="386.50" stroke="#2a2a2a" stroke-width="1.2"/>
<circle cx="109.7" cy="316.6" r="15.7" fill="none" stroke="#2a2a2a" stroke-width="1"/>
<g transform="translate(109.6,290.4) rotate(0)">
<path d="M-6.6,-4.5 Q-6.8,-7.6 -4.6,-7.6 H4.6 Q6.8,-7.6 6.6,-4.5 L5.6,6.6 Q5.5,7.6 4.4,7.6 H-4.4 Q-5.5,7.6 -5.6,6.6 Z" fill="none" stroke="#2a2a2a" stroke-width="1.0"/>
<path d="M-5.4,-7.0 H5.4" fill="none" stroke="#2a2a2a" stroke-width="1.8"/>
</g>
<g transform="translate(109.6,343.2) rotate(180)">
<path d="M-6.6,-4.5 Q-6.8,-7.6 -4.6,-7.6 H4.6 Q6.8,-7.6 6.6,-4.5 L5.6,6.6 Q5.5,7.6 4.4,7.6 H-4.4 Q-5.5,7.6 -5.6,6.6 Z" fill="none" stroke="#2a2a2a" stroke-width="1.0"/>
<path d="M-5.4,-7.0 H5.4" fill="none" stroke="#2a2a2a" stroke-width="1.8"/>
</g>
<g transform="translate(83.6,316.9) rotate(-90)">
<path d="M-6.6,-4.5 Q-6.8,-7.6 -4.6,-7.6 H4.6 Q6.8,-7.6 6.6,-4.5 L5.6,6.6 Q5.5,7.6 4.4,7.6 H-4.4 Q-5.5,7.6 -5.6,6.6 Z" fill="none" stroke="#2a2a2a" stroke-width="1.0"/>
<path d="M-5.4,-7.0 H5.4" fill="none" stroke="#2a2a2a" stroke-width="1.8"/>
</g>
<g transform="translate(135.4,316.9) rotate(90)">
<path d="M-6.6,-4.5 Q-6.8,-7.6 -4.6,-7.6 H4.6 Q6.8,-7.6 6.6,-4.5 L5.6,6.6 Q5.5,7.6 4.4,7.6 H-4.4 Q-5.5,7.6 -5.6,6.6 Z" fill="none" stroke="#2a2a2a" stroke-width="1.0"/>
<path d="M-5.4,-7.0 H5.4" fill="none" stroke="#2a2a2a" stroke-width="1.8"/>
</g>
<rect x="164.40" y="265.40" width="20.20" height="5.60" rx="2" fill="#fff" stroke="#2a2a2a" stroke-width="0.9"/>
<rect x="164.40" y="319.60" width="20.20" height="5.40" rx="2" fill="#fff" stroke="#2a2a2a" stroke-width="0.9"/>
<rect x="161.60" y="269.60" width="25.40" height="51.20" rx="2.4" fill="#fff" stroke="#2a2a2a" stroke-width="1.0"/>
<rect x="161.60" y="270.20" width="6.20" height="50.00" rx="2.2" fill="none" stroke="#2a2a2a" stroke-width="0.9"/>
<rect x="195.90" y="279.20" width="14.70" height="24.30" rx="0" fill="none" stroke="#2a2a2a" stroke-width="1.0"/>
<rect x="240.20" y="268.00" width="17.50" height="6.20" rx="2" fill="#fff" stroke="#2a2a2a" stroke-width="0.9"/>
<rect x="239.00" y="270.60" width="19.90" height="22.80" rx="2.6" fill="#fff" stroke="#2a2a2a" stroke-width="1.0"/>
<line x1="240.40" y1="290.00" x2="257.50" y2="290.00" stroke="#2a2a2a" stroke-width="0.8"/>
<line x1="240.40" y1="274.20" x2="257.50" y2="274.20" stroke="#2a2a2a" stroke-width="0.8"/>
<rect x="235.60" y="270.60" width="4.80" height="21.40" rx="2.2" fill="#fff" stroke="#2a2a2a" stroke-width="0.9"/>
<rect x="257.50" y="270.60" width="4.80" height="21.40" rx="2.2" fill="#fff" stroke="#2a2a2a" stroke-width="0.9"/>
<rect x="207.30" y="342.00" width="16.90" height="6.20" rx="2" fill="#fff" stroke="#2a2a2a" stroke-width="0.9"/>
<rect x="206.10" y="320.80" width="19.30" height="24.80" rx="2.6" fill="#fff" stroke="#2a2a2a" stroke-width="1.0"/>
<line x1="207.50" y1="325.00" x2="224.00" y2="325.00" stroke="#2a2a2a" stroke-width="0.8"/>
<line x1="207.50" y1="342.00" x2="224.00" y2="342.00" stroke="#2a2a2a" stroke-width="0.8"/>
<rect x="202.70" y="322.20" width="4.80" height="23.40" rx="2.2" fill="#fff" stroke="#2a2a2a" stroke-width="0.9"/>
<rect x="224.00" y="322.20" width="4.80" height="23.40" rx="2.2" fill="#fff" stroke="#2a2a2a" stroke-width="0.9"/>
<rect x="267.00" y="291.40" width="8.40" height="58.00" rx="0" fill="none" stroke="#2a2a2a" stroke-width="1.0"/>
<line x1="271.20" y1="297.40" x2="271.20" y2="343.40" stroke="#2a2a2a" stroke-width="1.8"/>
<g transform="translate(335.5,257.5)">
<circle cx="0" cy="0" r="16" fill="none" stroke="#2a2a2a" stroke-width="0.9"/>
<g transform="rotate(45)">
<path d="M-3.2,-27.4 C-6.2,-27 -7.6,-24.4 -7.6,-21.4 L-7.2,-13 C-7,-10 -4,-7.6 0,-7.6 C4,-7.6 7,-10 7.2,-13 L7.6,-21.4 C7.6,-24.4 6.2,-27 3.2,-27.4 Z" fill="#fff" stroke="#2a2a2a" stroke-width="1.0"/>
<path d="M-4.6,-25.6 V-9.6 M-1.6,-27 V-8.4 M1.6,-27 V-8.4 M4.6,-25.6 V-9.6" fill="none" stroke="#2a2a2a" stroke-width="0.8"/>
<path d="M-6.6,-13.4 Q0,-20 6.6,-13.4 M-6.4,-11 Q0,-17 6.4,-11" fill="none" stroke="#2a2a2a" stroke-width="0.7"/>
<path d="M-3.8,-27.4 H3.8" fill="none" stroke="#111" stroke-width="2.8"/>
</g>
<g transform="rotate(135)">
<path d="M-3.2,-27.4 C-6.2,-27 -7.6,-24.4 -7.6,-21.4 L-7.2,-13 C-7,-10 -4,-7.6 0,-7.6 C4,-7.6 7,-10 7.2,-13 L7.6,-21.4 C7.6,-24.4 6.2,-27 3.2,-27.4 Z" fill="#fff" stroke="#2a2a2a" stroke-width="1.0"/>
<path d="M-4.6,-25.6 V-9.6 M-1.6,-27 V-8.4 M1.6,-27 V-8.4 M4.6,-25.6 V-9.6" fill="none" stroke="#2a2a2a" stroke-width="0.8"/>
<path d="M-6.6,-13.4 Q0,-20 6.6,-13.4 M-6.4,-11 Q0,-17 6.4,-11" fill="none" stroke="#2a2a2a" stroke-width="0.7"/>
<path d="M-3.8,-27.4 H3.8" fill="none" stroke="#111" stroke-width="2.8"/>
</g>
<g transform="rotate(225)">
<path d="M-3.2,-27.4 C-6.2,-27 -7.6,-24.4 -7.6,-21.4 L-7.2,-13 C-7,-10 -4,-7.6 0,-7.6 C4,-7.6 7,-10 7.2,-13 L7.6,-21.4 C7.6,-24.4 6.2,-27 3.2,-27.4 Z" fill="#fff" stroke="#2a2a2a" stroke-width="1.0"/>
<path d="M-4.6,-25.6 V-9.6 M-1.6,-27 V-8.4 M1.6,-27 V-8.4 M4.6,-25.6 V-9.6" fill="none" stroke="#2a2a2a" stroke-width="0.8"/>
<path d="M-6.6,-13.4 Q0,-20 6.6,-13.4 M-6.4,-11 Q0,-17 6.4,-11" fill="none" stroke="#2a2a2a" stroke-width="0.7"/>
<path d="M-3.8,-27.4 H3.8" fill="none" stroke="#111" stroke-width="2.8"/>
</g>
<g transform="rotate(315)">
<path d="M-3.2,-27.4 C-6.2,-27 -7.6,-24.4 -7.6,-21.4 L-7.2,-13 C-7,-10 -4,-7.6 0,-7.6 C4,-7.6 7,-10 7.2,-13 L7.6,-21.4 C7.6,-24.4 6.2,-27 3.2,-27.4 Z" fill="#fff" stroke="#2a2a2a" stroke-width="1.0"/>
<path d="M-4.6,-25.6 V-9.6 M-1.6,-27 V-8.4 M1.6,-27 V-8.4 M4.6,-25.6 V-9.6" fill="none" stroke="#2a2a2a" stroke-width="0.8"/>
<path d="M-6.6,-13.4 Q0,-20 6.6,-13.4 M-6.4,-11 Q0,-17 6.4,-11" fill="none" stroke="#2a2a2a" stroke-width="0.7"/>
<path d="M-3.8,-27.4 H3.8" fill="none" stroke="#111" stroke-width="2.8"/>
</g>
<line x1="-0.90" y1="-16.00" x2="-0.90" y2="16.00" stroke="#2a2a2a" stroke-width="0.9"/>
<line x1="-16.00" y1="-0.90" x2="16.00" y2="-0.90" stroke="#2a2a2a" stroke-width="0.9"/>
<line x1="0.90" y1="-16.00" x2="0.90" y2="16.00" stroke="#2a2a2a" stroke-width="0.9"/>
<line x1="-16.00" y1="0.90" x2="16.00" y2="0.90" stroke="#2a2a2a" stroke-width="0.9"/>
<circle cx="0" cy="0" r="1.3" fill="#fff" stroke="#222" stroke-width="0.6"/>
</g>
<rect x="325.20" y="338.90" width="60.60" height="48.40" rx="0" fill="none" stroke="#2a2a2a" stroke-width="0.9"/>
<rect x="368.60" y="341.30" width="16.00" height="19.20" rx="2" fill="none" stroke="#2a2a2a" stroke-width="1.0"/>
<rect x="368.60" y="365.70" width="16.00" height="19.20" rx="2" fill="none" stroke="#2a2a2a" stroke-width="1.0"/>
<line x1="361.00" y1="340.30" x2="385.00" y2="340.30" stroke="#666" stroke-width="0.7"/>
<line x1="361.00" y1="385.90" x2="385.00" y2="385.90" stroke="#666" stroke-width="0.7"/>
<path d="M360.5,338.9 H325.2 V387.3 H360.5 V377.5 H368.4 L371.6,374.3 V351.9 L368.4,348.7 H360.5 Z" fill="#fff" stroke="#333" stroke-width="1.6"/>
<line x1="360.60" y1="339.50" x2="368.60" y2="348.50" stroke="#2a2a2a" stroke-width="0.8"/>
<line x1="360.60" y1="386.70" x2="368.60" y2="377.70" stroke="#2a2a2a" stroke-width="0.8"/>
<line x1="385.60" y1="338.90" x2="385.60" y2="387.30" stroke="#333" stroke-width="1.8"/>
<rect x="325.20" y="440.50" width="60.60" height="48.50" rx="0" fill="none" stroke="#2a2a2a" stroke-width="0.9"/>
<rect x="368.60" y="442.90" width="16.00" height="19.25" rx="2" fill="none" stroke="#2a2a2a" stroke-width="1.0"/>
<rect x="368.60" y="467.35" width="16.00" height="19.25" rx="2" fill="none" stroke="#2a2a2a" stroke-width="1.0"/>
<line x1="361.00" y1="441.90" x2="385.00" y2="441.90" stroke="#666" stroke-width="0.7"/>
<line x1="361.00" y1="487.60" x2="385.00" y2="487.60" stroke="#666" stroke-width="0.7"/>
<path d="M360.5,440.5 H325.2 V489.0 H360.5 V479.2 H368.4 L371.6,476.0 V453.5 L368.4,450.3 H360.5 Z" fill="#fff" stroke="#333" stroke-width="1.6"/>
<line x1="360.60" y1="441.10" x2="368.60" y2="450.10" stroke="#2a2a2a" stroke-width="0.8"/>
<line x1="360.60" y1="488.40" x2="368.60" y2="479.40" stroke="#2a2a2a" stroke-width="0.8"/>
<line x1="385.60" y1="440.50" x2="385.60" y2="489.00" stroke="#333" stroke-width="1.8"/>
<line x1="86.30" y1="226.00" x2="86.30" y2="540.00" stroke="#2a2a2a" stroke-width="1.3" stroke-dasharray="9 2.4 2 2.4"/>
<path d="M86.3,204.8 L97.8,215.8 L86.3,226.8 Z" fill="none" stroke="#2a2a2a" stroke-width="1.9"/>
<path d="M86.1,540 L96.6,549.8 L86.1,560.6 Z" fill="none" stroke="#2a2a2a" stroke-width="1.9"/>
<text x="136.20" y="215.60" font-size="16.5" text-anchor="middle" fill="#222" font-weight="normal" transform="rotate(-90 136.20 215.60)" stroke="#222" stroke-width="0.55">A</text>
<text x="133.60" y="546.20" font-size="15.5" text-anchor="middle" fill="#222" font-weight="normal" transform="rotate(-90 133.60 546.20)" stroke="#222" stroke-width="0.55">A</text>
<text x="136.00" y="549.00" font-size="9" text-anchor="start" fill="#2e2e2e" font-weight="normal" stroke="#2e2e2e" stroke-width="0.25">S3</text>
<text x="153.80" y="549.00" font-size="9" text-anchor="start" fill="#2e2e2e" font-weight="normal" stroke="#2e2e2e" stroke-width="0.25">S2</text>
<text x="171.00" y="549.00" font-size="9" text-anchor="start" fill="#2e2e2e" font-weight="normal" stroke="#2e2e2e" stroke-width="0.25">S1</text>
<text x="106.60" y="245.80" font-size="10.0" text-anchor="start" fill="#2a2a2a" font-weight="normal" transform="rotate(-90 106.60 245.80)" stroke="#2a2a2a" stroke-width="0.3">100</text>
<text x="120.00" y="245.80" font-size="10.0" text-anchor="start" fill="#2a2a2a" font-weight="normal" transform="rotate(-90 120.00 245.80)" stroke="#2a2a2a" stroke-width="0.3">120</text>
<line x1="109.20" y1="228.50" x2="109.20" y2="265.50" stroke="#2a2a2a" stroke-width="0.8"/>
<text x="225.40" y="241.00" font-size="10.0" text-anchor="start" fill="#2a2a2a" font-weight="normal" transform="rotate(-90 225.40 241.00)" stroke="#2a2a2a" stroke-width="0.3">200</text>
<text x="238.80" y="241.00" font-size="10.0" text-anchor="start" fill="#2a2a2a" font-weight="normal" transform="rotate(-90 238.80 241.00)" stroke="#2a2a2a" stroke-width="0.3">220</text>
<line x1="228.00" y1="238.00" x2="228.00" y2="271.00" stroke="#2a2a2a" stroke-width="0.8"/>
<text x="333.20" y="299.20" font-size="10.0" text-anchor="start" fill="#2a2a2a" font-weight="normal" transform="rotate(-90 333.20 299.20)" stroke="#2a2a2a" stroke-width="0.3">100</text>
<text x="346.60" y="299.20" font-size="10.0" text-anchor="start" fill="#2a2a2a" font-weight="normal" transform="rotate(-90 346.60 299.20)" stroke="#2a2a2a" stroke-width="0.3">220</text>
<text x="89.90" y="536.80" font-size="10.0" text-anchor="start" fill="#2a2a2a" font-weight="normal" transform="rotate(-90 89.90 536.80)" stroke="#2a2a2a" stroke-width="0.3">110</text>
<text x="103.30" y="536.80" font-size="10.0" text-anchor="start" fill="#2a2a2a" font-weight="normal" transform="rotate(-90 103.30 536.80)" stroke="#2a2a2a" stroke-width="0.3">110</text>
<line x1="92.50" y1="505.00" x2="92.50" y2="537.00" stroke="#2a2a2a" stroke-width="0.8"/>
<text x="172.60" y="536.80" font-size="10.0" text-anchor="start" fill="#2a2a2a" font-weight="normal" transform="rotate(-90 172.60 536.80)" stroke="#2a2a2a" stroke-width="0.3">110</text>
<text x="186.00" y="536.80" font-size="10.0" text-anchor="start" fill="#2a2a2a" font-weight="normal" transform="rotate(-90 186.00 536.80)" stroke="#2a2a2a" stroke-width="0.3">210</text>
<line x1="175.20" y1="521.00" x2="175.20" y2="537.00" stroke="#2a2a2a" stroke-width="0.8"/>
<text x="235.60" y="536.80" font-size="10.0" text-anchor="start" fill="#2a2a2a" font-weight="normal" transform="rotate(-90 235.60 536.80)" stroke="#2a2a2a" stroke-width="0.3">100</text>
<text x="249.00" y="536.80" font-size="10.0" text-anchor="start" fill="#2a2a2a" font-weight="normal" transform="rotate(-90 249.00 536.80)" stroke="#2a2a2a" stroke-width="0.3">60</text>
<line x1="238.20" y1="503.50" x2="238.20" y2="537.00" stroke="#2a2a2a" stroke-width="0.8"/>
<text x="337.60" y="544.40" font-size="10.0" text-anchor="start" fill="#2a2a2a" font-weight="normal" transform="rotate(-90 337.60 544.40)" stroke="#2a2a2a" stroke-width="0.3">100</text>
<text x="351.00" y="544.40" font-size="10.0" text-anchor="start" fill="#2a2a2a" font-weight="normal" transform="rotate(-90 351.00 544.40)" stroke="#2a2a2a" stroke-width="0.3">220</text>
<line x1="340.20" y1="503.40" x2="340.20" y2="544.00" stroke="#2a2a2a" stroke-width="0.8"/>
<text x="173.00" y="345.80" font-size="15.5" text-anchor="start" fill="#333" font-weight="normal">3.</text>
<text x="300.80" y="282.40" font-size="15" text-anchor="start" fill="#333" font-weight="normal">7.</text>
<text x="303.00" y="363.00" font-size="15.5" text-anchor="start" fill="#333" font-weight="normal">6.</text>
<text x="303.40" y="442.00" font-size="15.5" text-anchor="start" fill="#333" font-weight="normal">5.</text>
<text x="237.20" y="462.40" font-size="15" text-anchor="start" fill="#333" font-weight="normal">4.</text>
<text x="169.00" y="475.80" font-size="13.5" text-anchor="start" fill="#333" font-weight="normal">1.</text>
<text x="118.00" y="425.20" font-size="14.5" text-anchor="start" fill="#333" font-weight="normal">2.</text>
<text x="230.20" y="328.00" font-size="7" text-anchor="middle" fill="#333" font-weight="normal" transform="rotate(-90 230.20 328.00)">432</text>
</g>
<g id="legend">
<text x="543.00" y="212.40" font-size="9.7" text-anchor="start" fill="#151515" font-weight="bold" textLength="180.80" lengthAdjust="spacingAndGlyphs" stroke="#151515" stroke-width="0.3">LEGENDA . NETO POVRŠINA PRIZEMLJA:</text>
<text x="727.60" y="212.40" font-size="9.7" text-anchor="start" fill="#3c3c3c" font-weight="normal" textLength="10.20" lengthAdjust="spacingAndGlyphs" stroke="#3c3c3c" stroke-width="0.3">S1</text>
<text x="573.80" y="226.30" font-size="9.7" text-anchor="start" fill="#151515" font-weight="bold" textLength="43.80" lengthAdjust="spacingAndGlyphs" stroke="#151515" stroke-width="0.3">prostorija</text>
<text x="728.00" y="226.30" font-size="9.7" text-anchor="start" fill="#151515" font-weight="bold" textLength="43.80" lengthAdjust="spacingAndGlyphs" stroke="#151515" stroke-width="0.3">neto (m2)</text>
<text x="805.50" y="226.30" font-size="9.7" text-anchor="start" fill="#151515" font-weight="bold" textLength="23.30" lengthAdjust="spacingAndGlyphs" stroke="#151515" stroke-width="0.3">koef.</text>
<text x="852.50" y="226.30" font-size="9.7" text-anchor="start" fill="#151515" font-weight="bold" textLength="80.50" lengthAdjust="spacingAndGlyphs" stroke="#151515" stroke-width="0.3">neto korisna (m2)</text>
<text x="573.80" y="241.20" font-size="9.7" text-anchor="start" fill="#151515" font-weight="bold" textLength="73.40" lengthAdjust="spacingAndGlyphs" stroke="#151515" stroke-width="0.3">ZAJEDNIČKI DIO:</text>
<text x="543.60" y="255.20" font-size="9.7" text-anchor="start" fill="#151515" font-weight="bold" textLength="6.80" lengthAdjust="spacingAndGlyphs" stroke="#151515" stroke-width="0.3">1.</text>
<text x="573.80" y="255.20" font-size="9.7" text-anchor="start" fill="#3c3c3c" font-weight="normal" textLength="22.40" lengthAdjust="spacingAndGlyphs" stroke="#3c3c3c" stroke-width="0.3">ULAZ</text>
<text x="778.80" y="255.20" font-size="9.7" text-anchor="start" fill="#3c3c3c" font-weight="normal" textLength="23.00" lengthAdjust="spacingAndGlyphs" stroke="#3c3c3c" stroke-width="0.3">10,00</text>
<text x="831.20" y="255.20" font-size="9.7" text-anchor="start" fill="#3c3c3c" font-weight="normal" textLength="18.30" lengthAdjust="spacingAndGlyphs" stroke="#3c3c3c" stroke-width="0.3">1,00</text>
<text x="873.00" y="255.20" font-size="9.7" text-anchor="start" fill="#3c3c3c" font-weight="normal" textLength="24.00" lengthAdjust="spacingAndGlyphs" stroke="#3c3c3c" stroke-width="0.3">10,00</text>
<text x="900.50" y="255.20" font-size="9.7" text-anchor="start" fill="#3c3c3c" font-weight="normal" textLength="13.30" lengthAdjust="spacingAndGlyphs" stroke="#3c3c3c" stroke-width="0.3">m2</text>
<text x="543.60" y="269.40" font-size="9.7" text-anchor="start" fill="#151515" font-weight="bold" textLength="6.80" lengthAdjust="spacingAndGlyphs" stroke="#151515" stroke-width="0.3">2.</text>
<text x="573.80" y="269.40" font-size="9.7" text-anchor="start" fill="#3c3c3c" font-weight="normal" textLength="36.60" lengthAdjust="spacingAndGlyphs" stroke="#3c3c3c" stroke-width="0.3">OSTAVA</text>
<text x="783.00" y="269.40" font-size="9.7" text-anchor="start" fill="#3c3c3c" font-weight="normal" textLength="18.80" lengthAdjust="spacingAndGlyphs" stroke="#3c3c3c" stroke-width="0.3">2,49</text>
<text x="831.20" y="269.40" font-size="9.7" text-anchor="start" fill="#3c3c3c" font-weight="normal" textLength="18.30" lengthAdjust="spacingAndGlyphs" stroke="#3c3c3c" stroke-width="0.3">1,00</text>
<text x="878.00" y="269.40" font-size="9.7" text-anchor="start" fill="#3c3c3c" font-weight="normal" textLength="19.00" lengthAdjust="spacingAndGlyphs" stroke="#3c3c3c" stroke-width="0.3">2,49</text>
<line x1="725.50" y1="272.60" x2="936.00" y2="272.60" stroke="#333" stroke-width="0.9"/>
<text x="573.80" y="283.80" font-size="9.7" text-anchor="start" fill="#151515" font-weight="bold" textLength="43.60" lengthAdjust="spacingAndGlyphs" stroke="#151515" stroke-width="0.3">UKUPNO:</text>
<text x="753.80" y="283.80" font-size="9.7" text-anchor="start" fill="#151515" font-weight="bold" textLength="22.50" lengthAdjust="spacingAndGlyphs" stroke="#151515" stroke-width="0.3">12,49</text>
<text x="863.80" y="283.80" font-size="9.7" text-anchor="start" fill="#151515" font-weight="bold" textLength="23.20" lengthAdjust="spacingAndGlyphs" stroke="#151515" stroke-width="0.3">12,49</text>
<text x="900.50" y="283.80" font-size="9.7" text-anchor="start" fill="#3c3c3c" font-weight="normal" textLength="13.30" lengthAdjust="spacingAndGlyphs" stroke="#3c3c3c" stroke-width="0.3">m2</text>
<text x="573.80" y="312.40" font-size="9.7" text-anchor="start" fill="#151515" font-weight="bold" textLength="70.00" lengthAdjust="spacingAndGlyphs" stroke="#151515" stroke-width="0.3">STAMBENI DIO:</text>
<text x="543.40" y="326.40" font-size="9.7" text-anchor="start" fill="#5a5a5a" font-weight="normal" textLength="7.20" lengthAdjust="spacingAndGlyphs" stroke="#5a5a5a" stroke-width="0.3">3.</text>
<text x="573.80" y="326.40" font-size="9.7" text-anchor="start" fill="#3c3c3c" font-weight="normal" textLength="107.40" lengthAdjust="spacingAndGlyphs" stroke="#3c3c3c" stroke-width="0.3">KUH.+ BLAG.+ BORAVAK</text>
<text x="753.00" y="326.40" font-size="9.7" text-anchor="start" fill="#3c3c3c" font-weight="normal" textLength="23.80" lengthAdjust="spacingAndGlyphs" stroke="#3c3c3c" stroke-width="0.3">29,50</text>
<text x="818.80" y="326.40" font-size="9.7" text-anchor="start" fill="#3c3c3c" font-weight="normal" textLength="18.00" lengthAdjust="spacingAndGlyphs" stroke="#3c3c3c" stroke-width="0.3">1,00</text>
<text x="863.00" y="326.40" font-size="9.7" text-anchor="start" fill="#3c3c3c" font-weight="normal" textLength="24.00" lengthAdjust="spacingAndGlyphs" stroke="#3c3c3c" stroke-width="0.3">29,50</text>
<text x="900.50" y="326.40" font-size="9.7" text-anchor="start" fill="#3c3c3c" font-weight="normal" textLength="13.30" lengthAdjust="spacingAndGlyphs" stroke="#3c3c3c" stroke-width="0.3">m2</text>
<text x="543.40" y="340.60" font-size="9.7" text-anchor="start" fill="#5a5a5a" font-weight="normal" textLength="7.20" lengthAdjust="spacingAndGlyphs" stroke="#5a5a5a" stroke-width="0.3">4.</text>
<text x="573.80" y="340.60" font-size="9.7" text-anchor="start" fill="#3c3c3c" font-weight="normal" textLength="54.20" lengthAdjust="spacingAndGlyphs" stroke="#3c3c3c" stroke-width="0.3">KUPAONICA</text>
<text x="756.20" y="340.60" font-size="9.7" text-anchor="start" fill="#3c3c3c" font-weight="normal" textLength="18.30" lengthAdjust="spacingAndGlyphs" stroke="#3c3c3c" stroke-width="0.3">7,30</text>
<text x="818.80" y="340.60" font-size="9.7" text-anchor="start" fill="#3c3c3c" font-weight="normal" textLength="18.00" lengthAdjust="spacingAndGlyphs" stroke="#3c3c3c" stroke-width="0.3">1,00</text>
<text x="865.50" y="340.60" font-size="9.7" text-anchor="start" fill="#3c3c3c" font-weight="normal" textLength="19.00" lengthAdjust="spacingAndGlyphs" stroke="#3c3c3c" stroke-width="0.3">7,30</text>
<text x="543.40" y="355.00" font-size="9.7" text-anchor="start" fill="#5a5a5a" font-weight="normal" textLength="7.20" lengthAdjust="spacingAndGlyphs" stroke="#5a5a5a" stroke-width="0.3">5.</text>
<text x="573.80" y="355.00" font-size="9.7" text-anchor="start" fill="#3c3c3c" font-weight="normal" textLength="23.80" lengthAdjust="spacingAndGlyphs" stroke="#3c3c3c" stroke-width="0.3">SOBA</text>
<text x="753.00" y="355.00" font-size="9.7" text-anchor="start" fill="#3c3c3c" font-weight="normal" textLength="23.60" lengthAdjust="spacingAndGlyphs" stroke="#3c3c3c" stroke-width="0.3">10,23</text>
<text x="818.80" y="355.00" font-size="9.7" text-anchor="start" fill="#3c3c3c" font-weight="normal" textLength="18.00" lengthAdjust="spacingAndGlyphs" stroke="#3c3c3c" stroke-width="0.3">1,00</text>
<text x="863.00" y="355.00" font-size="9.7" text-anchor="start" fill="#3c3c3c" font-weight="normal" textLength="24.00" lengthAdjust="spacingAndGlyphs" stroke="#3c3c3c" stroke-width="0.3">10,23</text>
<text x="543.40" y="369.30" font-size="9.7" text-anchor="start" fill="#5a5a5a" font-weight="normal" textLength="7.20" lengthAdjust="spacingAndGlyphs" stroke="#5a5a5a" stroke-width="0.3">6.</text>
<text x="573.80" y="369.30" font-size="9.7" text-anchor="start" fill="#3c3c3c" font-weight="normal" textLength="23.80" lengthAdjust="spacingAndGlyphs" stroke="#3c3c3c" stroke-width="0.3">SOBA</text>
<text x="753.00" y="369.30" font-size="9.7" text-anchor="start" fill="#3c3c3c" font-weight="normal" textLength="23.60" lengthAdjust="spacingAndGlyphs" stroke="#3c3c3c" stroke-width="0.3">10,23</text>
<text x="818.80" y="369.30" font-size="9.7" text-anchor="start" fill="#3c3c3c" font-weight="normal" textLength="18.00" lengthAdjust="spacingAndGlyphs" stroke="#3c3c3c" stroke-width="0.3">1,00</text>
<text x="863.00" y="369.30" font-size="9.7" text-anchor="start" fill="#3c3c3c" font-weight="normal" textLength="24.00" lengthAdjust="spacingAndGlyphs" stroke="#3c3c3c" stroke-width="0.3">10,23</text>
<text x="543.40" y="383.40" font-size="9.7" text-anchor="start" fill="#5a5a5a" font-weight="normal" textLength="7.20" lengthAdjust="spacingAndGlyphs" stroke="#5a5a5a" stroke-width="0.3">7.</text>
<text x="573.80" y="383.40" font-size="9.7" text-anchor="start" fill="#3c3c3c" font-weight="normal" textLength="97.40" lengthAdjust="spacingAndGlyphs" stroke="#3c3c3c" stroke-width="0.3">NADKRIVENA TERASA</text>
<text x="782.50" y="383.40" font-size="9.7" text-anchor="start" fill="#3c3c3c" font-weight="normal" textLength="19.30" lengthAdjust="spacingAndGlyphs" stroke="#3c3c3c" stroke-width="0.3">9,17</text>
<text x="830.50" y="383.40" font-size="9.7" text-anchor="start" fill="#3c3c3c" font-weight="normal" textLength="19.00" lengthAdjust="spacingAndGlyphs" stroke="#3c3c3c" stroke-width="0.3">0,50</text>
<text x="878.00" y="383.40" font-size="9.7" text-anchor="start" fill="#3c3c3c" font-weight="normal" textLength="19.00" lengthAdjust="spacingAndGlyphs" stroke="#3c3c3c" stroke-width="0.3">4,58</text>
<line x1="571.20" y1="386.40" x2="936.00" y2="386.40" stroke="#333" stroke-width="0.9"/>
<text x="573.80" y="396.40" font-size="9.7" text-anchor="start" fill="#151515" font-weight="bold" textLength="40.60" lengthAdjust="spacingAndGlyphs" stroke="#151515" stroke-width="0.3">UKUPNO</text>
<text x="777.50" y="396.40" font-size="9.7" text-anchor="start" fill="#151515" font-weight="bold" textLength="23.80" lengthAdjust="spacingAndGlyphs" stroke="#151515" stroke-width="0.3">66,43</text>
<text x="872.50" y="396.40" font-size="9.7" text-anchor="start" fill="#151515" font-weight="bold" textLength="24.50" lengthAdjust="spacingAndGlyphs" stroke="#151515" stroke-width="0.3">61,84</text>
<text x="900.50" y="396.40" font-size="9.7" text-anchor="start" fill="#3c3c3c" font-weight="normal" textLength="13.30" lengthAdjust="spacingAndGlyphs" stroke="#3c3c3c" stroke-width="0.3">m2</text>
<text x="573.80" y="424.60" font-size="9.7" text-anchor="start" fill="#151515" font-weight="bold" textLength="205.00" lengthAdjust="spacingAndGlyphs" stroke="#151515" stroke-width="0.3">GRAĐEVINSKA BRUTO POVRŠINA  PRIZEMLJA</text>
<text x="747.00" y="438.20" font-size="9.7" text-anchor="start" fill="#151515" font-weight="bold" textLength="34.30" lengthAdjust="spacingAndGlyphs" stroke="#151515" stroke-width="0.3">BP (m2)</text>
<text x="816.30" y="438.20" font-size="9.7" text-anchor="start" fill="#151515" font-weight="bold" textLength="22.50" lengthAdjust="spacingAndGlyphs" stroke="#151515" stroke-width="0.3">koef.</text>
<text x="853.80" y="438.20" font-size="9.7" text-anchor="start" fill="#151515" font-weight="bold" textLength="42.50" lengthAdjust="spacingAndGlyphs" stroke="#151515" stroke-width="0.3">GBP (m2)</text>
<text x="573.80" y="452.10" font-size="9.7" text-anchor="start" fill="#3c3c3c" font-weight="normal" textLength="70.70" lengthAdjust="spacingAndGlyphs" stroke="#3c3c3c" stroke-width="0.3">ZATVORENI DIO</text>
<text x="753.00" y="452.10" font-size="9.7" text-anchor="start" fill="#3c3c3c" font-weight="normal" textLength="23.80" lengthAdjust="spacingAndGlyphs" stroke="#3c3c3c" stroke-width="0.3">87,18</text>
<text x="818.80" y="452.10" font-size="9.7" text-anchor="start" fill="#3c3c3c" font-weight="normal" textLength="18.00" lengthAdjust="spacingAndGlyphs" stroke="#3c3c3c" stroke-width="0.3">1,00</text>
<text x="863.00" y="452.10" font-size="9.7" text-anchor="start" fill="#3c3c3c" font-weight="normal" textLength="24.00" lengthAdjust="spacingAndGlyphs" stroke="#3c3c3c" stroke-width="0.3">87,18</text>
<text x="900.50" y="452.10" font-size="9.7" text-anchor="start" fill="#3c3c3c" font-weight="normal" textLength="13.30" lengthAdjust="spacingAndGlyphs" stroke="#3c3c3c" stroke-width="0.3">m2</text>
<text x="573.80" y="465.60" font-size="9.7" text-anchor="start" fill="#3c3c3c" font-weight="normal" textLength="75.70" lengthAdjust="spacingAndGlyphs" stroke="#3c3c3c" stroke-width="0.3">NADKRIVENI DIO</text>
<text x="753.00" y="465.60" font-size="9.7" text-anchor="start" fill="#3c3c3c" font-weight="normal" textLength="23.60" lengthAdjust="spacingAndGlyphs" stroke="#3c3c3c" stroke-width="0.3">10,10</text>
<text x="817.50" y="465.60" font-size="9.7" text-anchor="start" fill="#3c3c3c" font-weight="normal" textLength="19.30" lengthAdjust="spacingAndGlyphs" stroke="#3c3c3c" stroke-width="0.3">0,50</text>
<text x="865.50" y="465.60" font-size="9.7" text-anchor="start" fill="#3c3c3c" font-weight="normal" textLength="19.00" lengthAdjust="spacingAndGlyphs" stroke="#3c3c3c" stroke-width="0.3">5,50</text>
<line x1="571.20" y1="468.60" x2="936.00" y2="468.60" stroke="#333" stroke-width="0.9"/>
<text x="573.80" y="480.20" font-size="9.7" text-anchor="start" fill="#151515" font-weight="bold" textLength="43.70" lengthAdjust="spacingAndGlyphs" stroke="#151515" stroke-width="0.3">UKUPNO:</text>
<text x="753.00" y="480.20" font-size="9.7" text-anchor="start" fill="#151515" font-weight="bold" textLength="23.60" lengthAdjust="spacingAndGlyphs" stroke="#151515" stroke-width="0.3">97,28</text>
<text x="863.00" y="480.20" font-size="9.7" text-anchor="start" fill="#151515" font-weight="bold" textLength="24.00" lengthAdjust="spacingAndGlyphs" stroke="#151515" stroke-width="0.3">92,68</text>
<text x="900.50" y="480.20" font-size="9.7" text-anchor="start" fill="#3c3c3c" font-weight="normal" textLength="13.30" lengthAdjust="spacingAndGlyphs" stroke="#3c3c3c" stroke-width="0.3">m2</text>
</g>
</svg>
</body>
</html>
